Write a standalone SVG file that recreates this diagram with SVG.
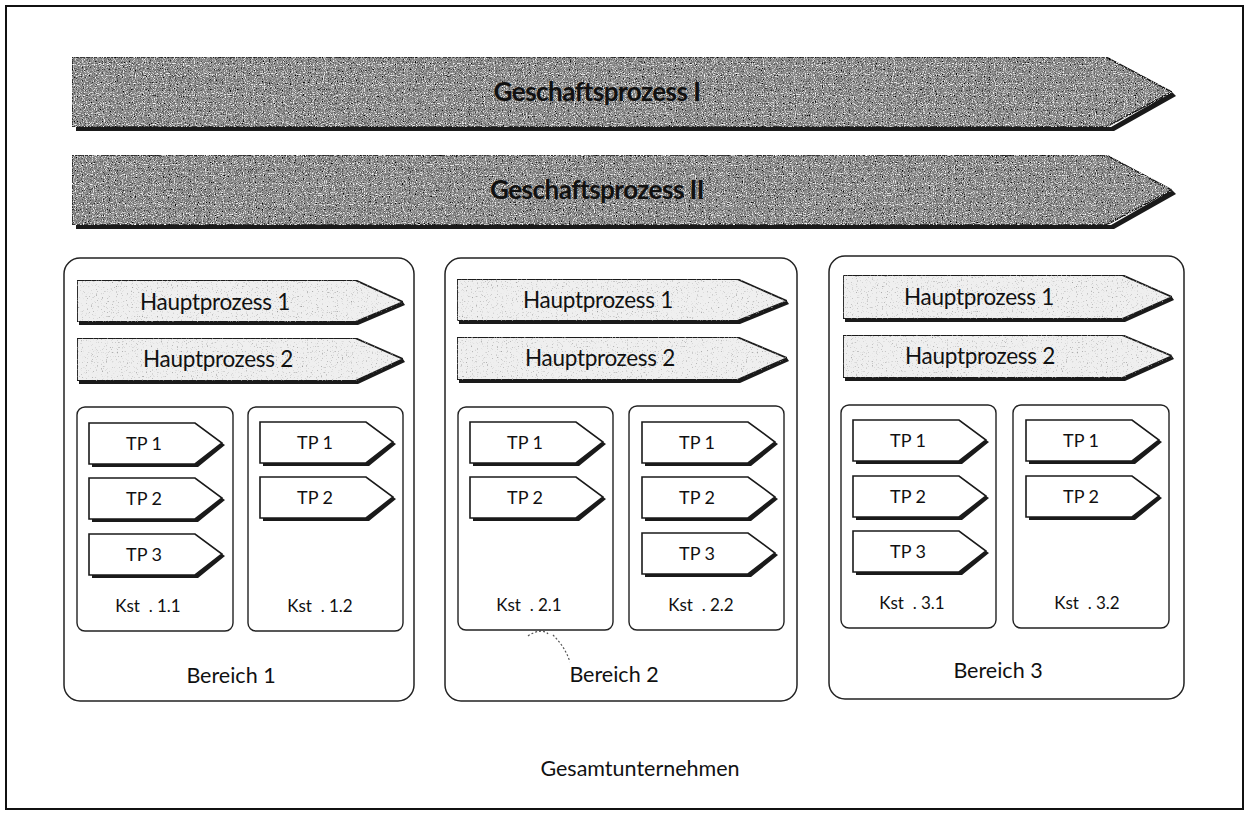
<svg xmlns="http://www.w3.org/2000/svg" width="1247" height="813" viewBox="0 0 1247 813">
<defs>
<filter id="grainDark" x="0" y="0" width="1" height="1">
<feTurbulence type="fractalNoise" baseFrequency="0.85" numOctaves="1" seed="4" result="t"/>
<feColorMatrix in="t" type="matrix" values="0 0 0 0 0  0 0 0 0 0  0 0 0 0 0  4 0 0 0 -1.95" result="m"/>
<feComposite in="m" in2="SourceGraphic" operator="in" result="d"/>
<feTurbulence type="fractalNoise" baseFrequency="0.9" numOctaves="1" seed="11" result="t2"/>
<feColorMatrix in="t2" type="matrix" values="0 0 0 0 1  0 0 0 0 1  0 0 0 0 1  4 0 0 0 -2.1" result="m2"/>
<feComposite in="m2" in2="SourceGraphic" operator="in" result="w"/>
<feMerge><feMergeNode in="SourceGraphic"/><feMergeNode in="d"/><feMergeNode in="w"/></feMerge>
</filter>
<filter id="grainLight" x="0" y="0" width="1" height="1">
<feTurbulence type="fractalNoise" baseFrequency="0.8" numOctaves="1" seed="9" result="t"/>
<feColorMatrix in="t" type="matrix" values="0 0 0 0 0.35  0 0 0 0 0.35  0 0 0 0 0.35  5 0 0 0 -3.0" result="m"/>
<feComposite in="m" in2="SourceGraphic" operator="in" result="d"/>
<feMerge><feMergeNode in="SourceGraphic"/><feMergeNode in="d"/></feMerge>
</filter>
<style>
.frame{fill:#fff;stroke:#111;stroke-width:2}
.shadow{fill:#1a1a1a}
.gp{fill:#8c8c8c;stroke:#222;stroke-width:1.5;filter:url(#grainDark)}
.gpt{font-family:Lato,"Liberation Sans",sans-serif;font-weight:bold;font-size:26px;fill:#111;text-anchor:middle;letter-spacing:-0.5px}
.ber{fill:#fff;stroke:#222;stroke-width:1.5}
.hp{fill:#efefef;stroke:#1a1a1a;stroke-width:1.8;filter:url(#grainLight)}
.hpt{font-family:Lato,"Liberation Sans",sans-serif;font-size:22.5px;fill:#111;text-anchor:middle;letter-spacing:-0.3px}
.kst{fill:#fff;stroke:#222;stroke-width:1.4}
.tp{fill:#fff;stroke:#1a1a1a;stroke-width:1.6}
.tpt{font-family:Lato,"Liberation Sans",sans-serif;font-size:18px;fill:#111;text-anchor:middle}
.kt{font-family:Lato,"Liberation Sans",sans-serif;font-size:17px;fill:#111;text-anchor:middle;white-space:pre}
.bt{font-family:Lato,"Liberation Sans",sans-serif;font-size:21.5px;fill:#111;text-anchor:middle}
.mark{fill:none;stroke:#555;stroke-width:1.2;stroke-dasharray:2 2}
</style>
<polygon id="tpShape" points="0,0 106,0 133,20 106,41 0,41"/>
<polygon id="tpShadow" points="106,41 133,20 136,22 109,44 3,44 3,41"/>
</defs>

<rect id="frame" class="frame" x="6" y="6" width="1237" height="803"/>

<g id="geschaeftsprozess1">
<polygon class="shadow" points="76,127 1111,127 1172,92 1176,96 1114,131 76,131"/>
<polygon class="gp" points="72,57 1106,57 1172,92 1106,127 72,127"/>
<text class="gpt" x="597" y="101">Geschaftsprozess I</text>
</g>

<g id="geschaeftsprozess2">
<polygon class="shadow" points="76,225 1111,225 1172,190 1176,194 1114,229 76,229"/>
<polygon class="gp" points="72,155 1106,155 1172,190 1106,225 72,225"/>
<text class="gpt" x="597" y="199">Geschaftsprozess II</text>
</g>

<g id="bereich1">
<rect class="ber" x="64" y="258" width="350" height="443" rx="16"/>
<polygon class="shadow" points="79,322 355,322 403,302 405,305 358,325 79,325"/>
<polygon class="hp" points="77,280 355,280 403,302 355,322 77,322"/>
<text class="hpt" x="215" y="310">Hauptprozess 1</text>
<polygon class="shadow" points="79,381 355,381 403,359 405,362 358,384 79,384"/>
<polygon class="hp" points="77,338 355,338 403,359 355,381 77,381"/>
<text class="hpt" x="218" y="367">Hauptprozess 2</text>
<text class="bt" x="231" y="683">Bereich 1</text>
</g>

<g id="kst11">
<rect class="kst" x="77" y="407" width="156" height="224" rx="8"/>
<g transform="translate(89,423)"><use href="#tpShadow" class="shadow"/><use href="#tpShape" class="tp"/><text class="tpt" x="55" y="27">TP 1</text></g>
<g transform="translate(89,478)"><use href="#tpShadow" class="shadow"/><use href="#tpShape" class="tp"/><text class="tpt" x="55" y="27">TP 2</text></g>
<g transform="translate(89,534)"><use href="#tpShadow" class="shadow"/><use href="#tpShape" class="tp"/><text class="tpt" x="55" y="27">TP 3</text></g>
<text class="kt" x="148" y="612">Kst  . 1.1</text>
</g>

<g id="kst12">
<rect class="kst" x="248" y="407" width="155" height="224" rx="8"/>
<g transform="translate(260,422)"><use href="#tpShadow" class="shadow"/><use href="#tpShape" class="tp"/><text class="tpt" x="55" y="27">TP 1</text></g>
<g transform="translate(260,477)"><use href="#tpShadow" class="shadow"/><use href="#tpShape" class="tp"/><text class="tpt" x="55" y="27">TP 2</text></g>
<text class="kt" x="320" y="612">Kst  . 1.2</text>
</g>

<g id="bereich2">
<rect class="ber" x="445" y="258" width="352" height="443" rx="16"/>
<polygon class="shadow" points="459,321 737,321 787,301 789,304 740,324 459,324"/>
<polygon class="hp" points="457,279 737,279 787,301 737,321 457,321"/>
<text class="hpt" x="598" y="308">Hauptprozess 1</text>
<polygon class="shadow" points="459,380 737,380 787,358 789,361 740,383 459,383"/>
<polygon class="hp" points="457,337 737,337 787,358 737,380 457,380"/>
<text class="hpt" x="600" y="366">Hauptprozess 2</text>
<text class="bt" x="614" y="682">Bereich 2</text>
<path class="mark" d="M528,636 C536,630 545,630 548,634 M553,635 C560,642 566,650 570,662"/>
</g>

<g id="kst21">
<rect class="kst" x="458" y="407" width="155" height="223" rx="8"/>
<g transform="translate(470,422)"><use href="#tpShadow" class="shadow"/><use href="#tpShape" class="tp"/><text class="tpt" x="55" y="27">TP 1</text></g>
<g transform="translate(470,477)"><use href="#tpShadow" class="shadow"/><use href="#tpShape" class="tp"/><text class="tpt" x="55" y="27">TP 2</text></g>
<text class="kt" x="529" y="611">Kst  . 2.1</text>
</g>

<g id="kst22">
<rect class="kst" x="629" y="406" width="155" height="224" rx="8"/>
<g transform="translate(642,422)"><use href="#tpShadow" class="shadow"/><use href="#tpShape" class="tp"/><text class="tpt" x="55" y="27">TP 1</text></g>
<g transform="translate(642,477)"><use href="#tpShadow" class="shadow"/><use href="#tpShape" class="tp"/><text class="tpt" x="55" y="27">TP 2</text></g>
<g transform="translate(642,533)"><use href="#tpShadow" class="shadow"/><use href="#tpShape" class="tp"/><text class="tpt" x="55" y="27">TP 3</text></g>
<text class="kt" x="701" y="611">Kst  . 2.2</text>
</g>

<g id="bereich3">
<rect class="ber" x="829" y="256" width="355" height="443" rx="16"/>
<polygon class="shadow" points="845,319 1122,319 1172,297 1174,300 1125,322 845,322"/>
<polygon class="hp" points="843,275 1122,275 1172,297 1122,319 843,319"/>
<text class="hpt" x="979" y="305">Hauptprozess 1</text>
<polygon class="shadow" points="845,378 1122,378 1172,356 1174,359 1125,381 845,381"/>
<polygon class="hp" points="843,335 1122,335 1172,356 1122,378 843,378"/>
<text class="hpt" x="980" y="364">Hauptprozess 2</text>
<text class="bt" x="998" y="678">Bereich 3</text>
</g>

<g id="kst31">
<rect class="kst" x="841" y="405" width="155" height="223" rx="8"/>
<g transform="translate(853,420)"><use href="#tpShadow" class="shadow"/><use href="#tpShape" class="tp"/><text class="tpt" x="55" y="27">TP 1</text></g>
<g transform="translate(853,476)"><use href="#tpShadow" class="shadow"/><use href="#tpShape" class="tp"/><text class="tpt" x="55" y="27">TP 2</text></g>
<g transform="translate(853,531)"><use href="#tpShadow" class="shadow"/><use href="#tpShape" class="tp"/><text class="tpt" x="55" y="27">TP 3</text></g>
<text class="kt" x="912" y="609">Kst  . 3.1</text>
</g>

<g id="kst32">
<rect class="kst" x="1013" y="405" width="156" height="223" rx="8"/>
<g transform="translate(1026,420)"><use href="#tpShadow" class="shadow"/><use href="#tpShape" class="tp"/><text class="tpt" x="55" y="27">TP 1</text></g>
<g transform="translate(1026,476)"><use href="#tpShadow" class="shadow"/><use href="#tpShape" class="tp"/><text class="tpt" x="55" y="27">TP 2</text></g>
<text class="kt" x="1087" y="609">Kst  . 3.2</text>
</g>

<g id="gesamtunternehmen">
<text class="bt" x="640" y="776">Gesamtunternehmen</text>
</g>

<g id="connectors"></g>
</svg>
